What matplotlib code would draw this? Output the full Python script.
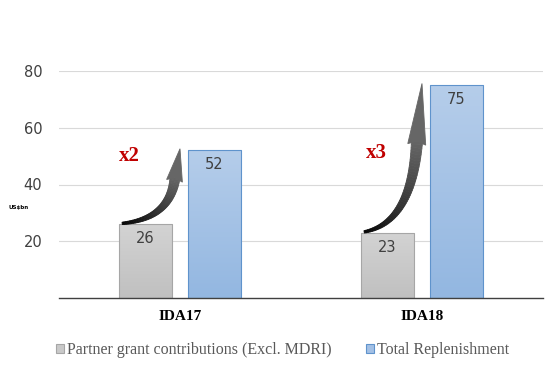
import matplotlib
matplotlib.use("Agg")
import matplotlib.pyplot as plt
from matplotlib.patches import Polygon
from matplotlib.transforms import IdentityTransform
import matplotlib.colors as mcolors
import numpy as np

categories = ["IDA17", "IDA18"]
partner = [26, 23]
total = [52, 75]
series_names = ["Partner grant contributions (Excl. MDRI)", "Total Replenishment"]
multipliers = ["x2", "x3"]
yticks = [20, 40, 60, 80]

fig = plt.figure(figsize=(5.6, 3.67), dpi=100)
ax = fig.add_axes([59/560, 69/367, 484/560, 227/367])

x = np.arange(len(categories))
w = 0.223
off = 0.1426
b1 = ax.bar(x - off, partner, w, color="#c9c9c9", edgecolor="#a6a6a6", linewidth=0.8,
            label=series_names[0], zorder=3)
b2 = ax.bar(x + off, total, w, color="#a3c0e5", edgecolor="#5f93cc", linewidth=0.8,
            label=series_names[1], zorder=3)

ax.set_xlim(-0.5, 1.5)
ax.set_ylim(0, 80)

# vertical gradient fills clipped to each bar
grads = [("#d3d3d3", "#c0c0c0"), ("#b5cdea", "#93b7e1")]
for bars, (ctop, cbot) in zip((b1, b2), grads):
    cmap = mcolors.LinearSegmentedColormap.from_list("g", [cbot, ctop])
    for r in bars:
        x0, y0 = r.get_x(), r.get_y()
        im = ax.imshow(np.linspace(0, 1, 64)[:, None], cmap=cmap, aspect="auto",
                       origin="lower", extent=(x0, x0 + r.get_width(), y0, y0 + r.get_height()),
                       zorder=3.5, interpolation="bilinear")
        im.set_clip_path(r)
        r.set_facecolor("none")
        r.set_zorder(4)
ax.set_xlim(-0.5, 1.5)
ax.set_ylim(0, 80)

for bars, vals in ((b1, partner), (b2, total)):
    for r, v in zip(bars, vals):
        ax.annotate(f"{v}", (r.get_x() + r.get_width()/2, v), xytext=(0, -5),
                    textcoords="offset points", ha="center", va="top",
                    fontsize=10.5, color="#404040", zorder=5)

# tapered curved gradient arrows (drawn in display pixels)
dark = np.array(mcolors.to_rgb("#050505"))
light = np.array(mcolors.to_rgb("#666666"))
for i in range(len(categories)):
    T = ax.transData.transform((x[i] - off - w/2 + 0.015, partner[i] + 0.3))
    H = ax.transData.transform((x[i] + 0.0, total[i] + 0.6))
    rise = H[1] - T[1]
    L = 0.39 * rise
    B = np.array([H[0] - 5, H[1] - L])
    C = np.array([B[0] - 5, T[1] + 0.06 * rise])
    ts = np.linspace(0, 1, 50)
    pts = ((1 - ts)[:, None]**2 * T + 2 * ((1 - ts) * ts)[:, None] * C + (ts**2)[:, None] * B)
    der = (2 * (1 - ts))[:, None] * (C - T) + (2 * ts)[:, None] * (B - C)
    der /= np.linalg.norm(der, axis=1)[:, None]
    nrm = np.column_stack([-der[:, 1], der[:, 0]])
    hw = 1.2 + 3.8 * ts + 0.6 * i * ts
    left = pts + nrm * hw[:, None]
    right = pts - nrm * hw[:, None]
    for k in range(len(ts) - 1):
        col = dark + (light - dark) * ts[k]
        poly = Polygon([left[k], left[k+1], right[k+1], right[k]], closed=True,
                       transform=IdentityTransform(), facecolor=col, edgecolor=col,
                       linewidth=0.6, zorder=6, clip_on=False)
        ax.add_patch(poly)
    hd = (H - B) / np.linalg.norm(H - B)
    hn = np.array([-hd[1], hd[0]])
    hwh = 8 + 1.0 * i
    head = Polygon([B + hn * hwh - hd * 3, H, B - hn * hwh - hd * 3, B], closed=True,
                   transform=IdentityTransform(), facecolor=light, edgecolor=light,
                   linewidth=0.6, zorder=6, clip_on=False)
    ax.add_patch(head)

ax.text(-0.21, 50.2, multipliers[0], color="#c00000", fontsize=15, fontweight="bold",
        family="Liberation Serif", ha="center", va="center")
ax.text(0.81, 51.2, multipliers[1], color="#c00000", fontsize=15, fontweight="bold",
        family="Liberation Serif", ha="center", va="center")

ax.set_yticks(yticks)
ax.set_yticklabels([str(t) for t in yticks], fontsize=10.5, color="#404040")
ax.set_xticks(x)
ax.set_xticklabels(categories, fontsize=11, fontweight="bold", family="Liberation Serif")
ax.tick_params(axis="y", length=0, pad=12)
ax.tick_params(axis="x", length=0, pad=9)
ax.grid(axis="y", color="#d9d9d9", linewidth=0.8, zorder=0)
for s in ["top", "right", "left"]:
    ax.spines[s].set_visible(False)
ax.spines["bottom"].set_color("#404040")
ax.spines["bottom"].set_linewidth(1.0)
ax.spines["bottom"].set_zorder(7)

fig.text(19/560, 1 - 207/367, "US$bn", fontsize=4, fontweight="bold", color="black",
         ha="center", va="center")

leg = fig.legend(handles=[b1, b2], labels=series_names, loc="center",
                 bbox_to_anchor=(0.5045, 0.047), ncol=2, frameon=False,
                 prop={"family": "Liberation Serif", "size": 11.5},
                 handlelength=0.5, handleheight=0.5, handletextpad=0.15, columnspacing=2.2)
leg.legend_handles[0].set_facecolor("#c9c9c9")
leg.legend_handles[1].set_facecolor("#a3c0e5")
for t in leg.get_texts():
    t.set_color("#595959")

fig.savefig("out.png", dpi=100)
